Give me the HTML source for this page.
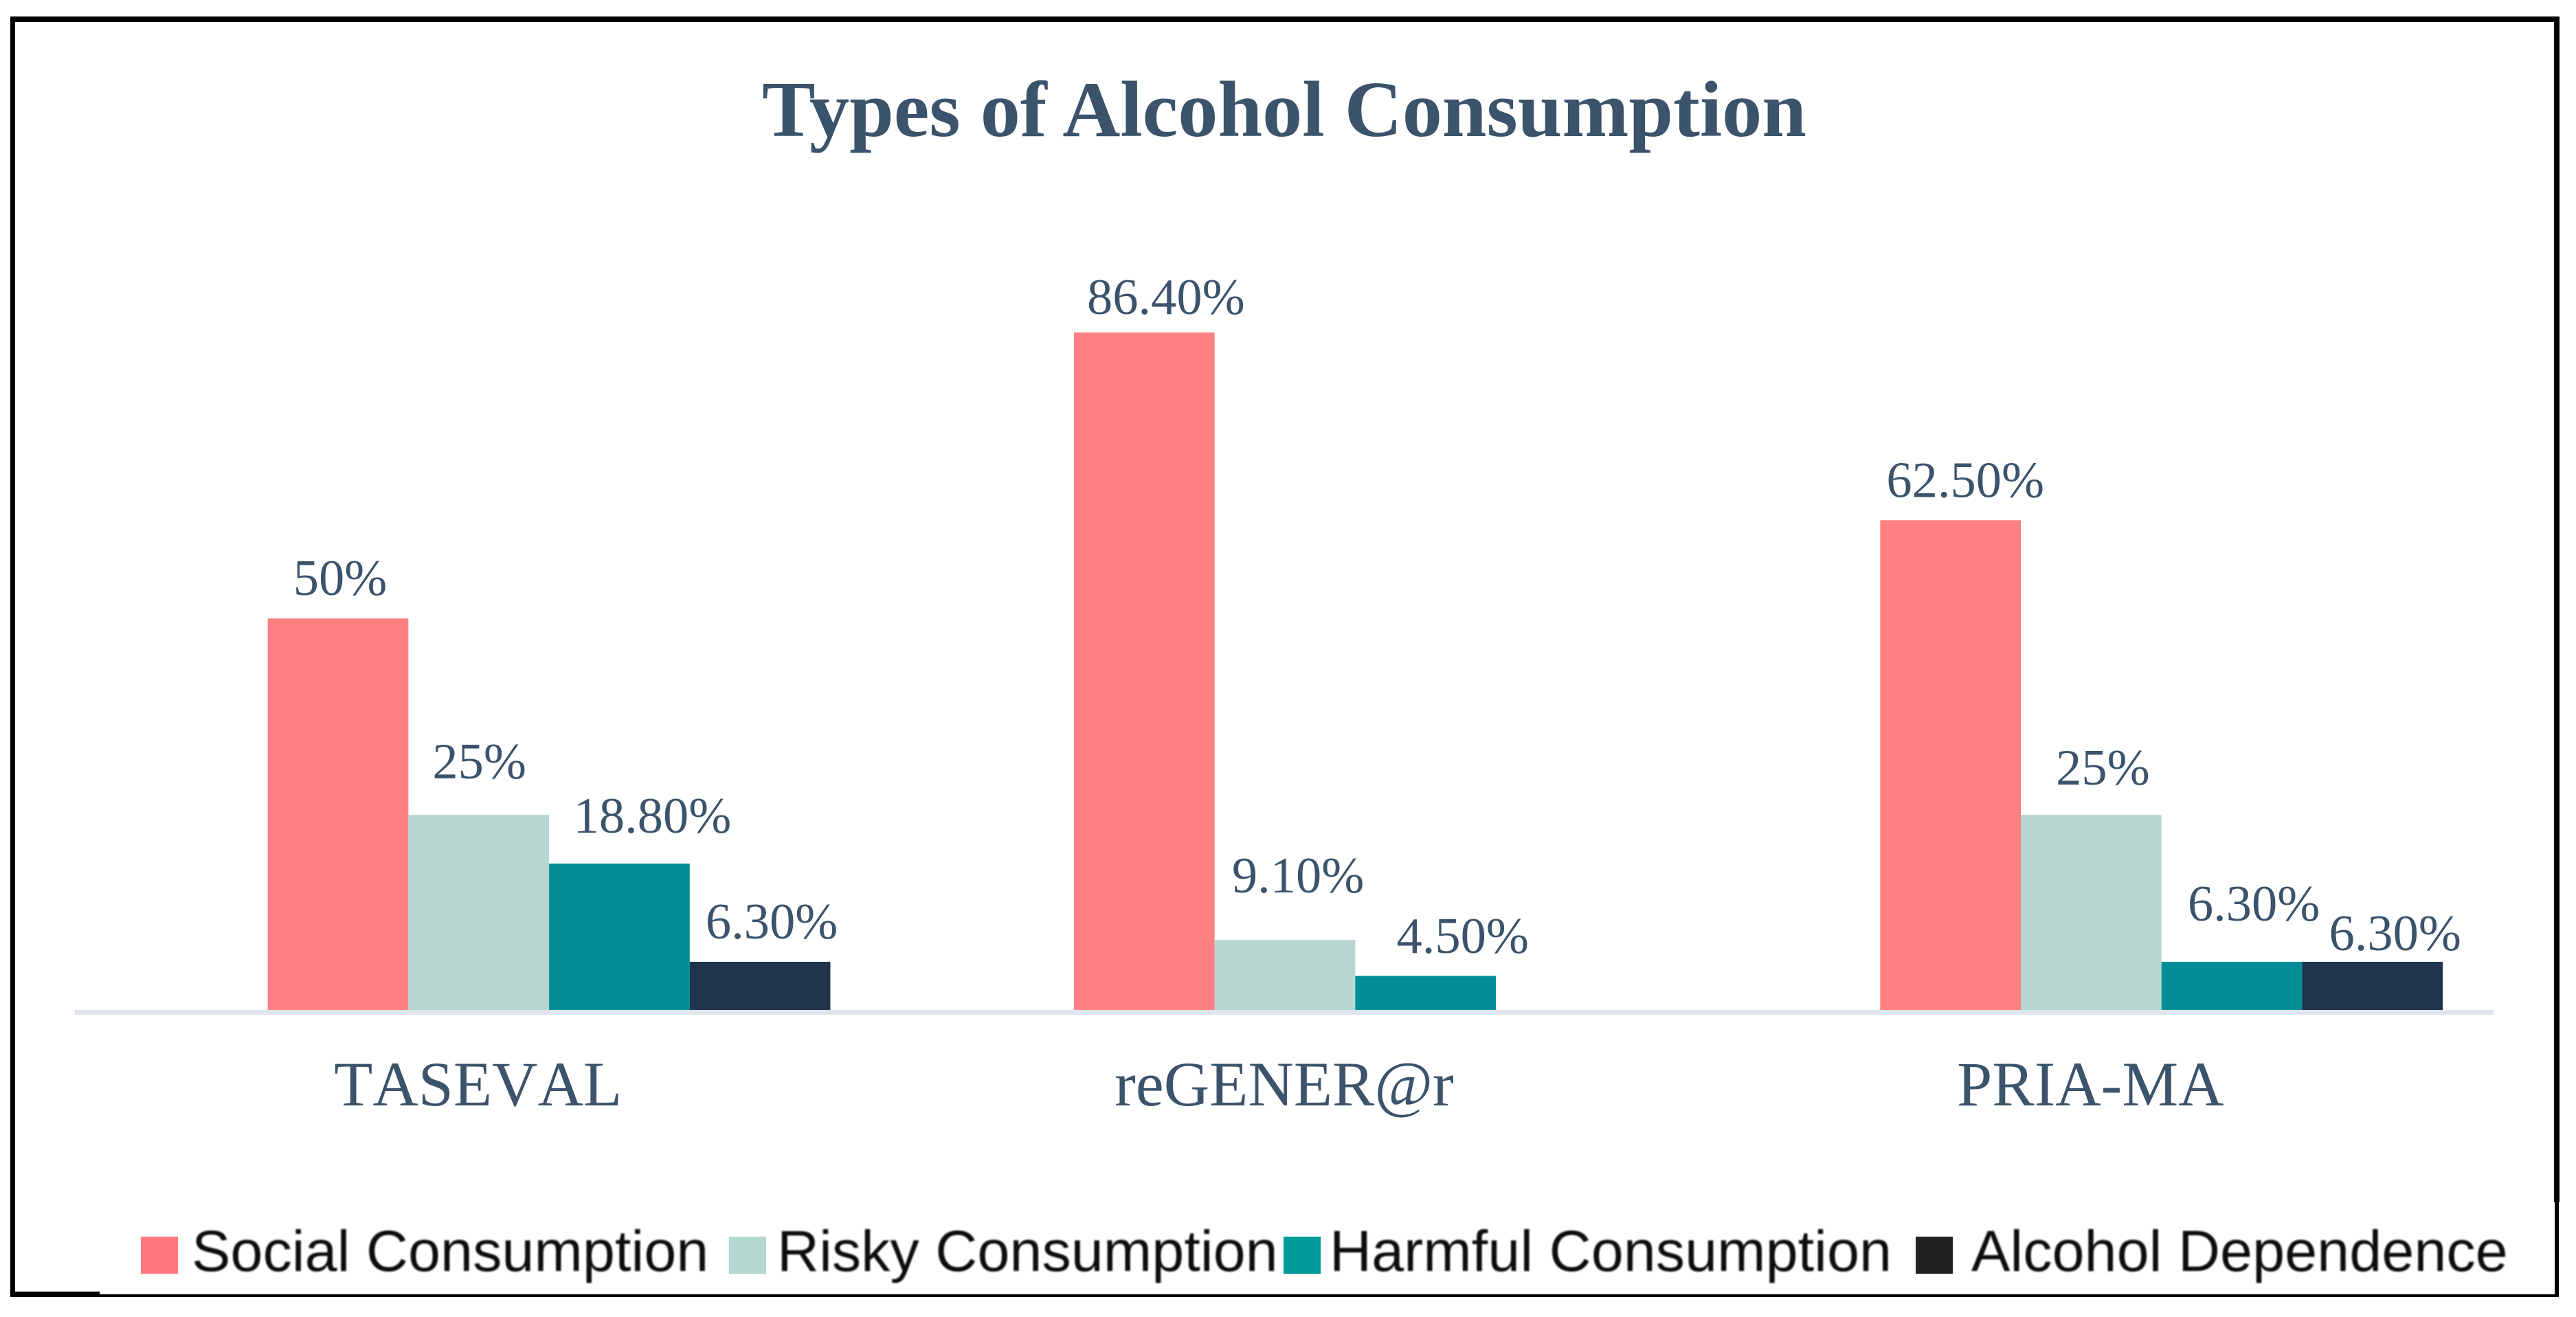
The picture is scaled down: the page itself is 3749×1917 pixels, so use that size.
<!DOCTYPE html>
<html lang="en">
<head>
<meta charset="utf-8">
<title>Types of Alcohol Consumption</title>
<style>
html,body{margin:0;padding:0;background:#fff;width:3749px;height:1917px;overflow:hidden}
svg{display:block}
.serif{font-family:"Liberation Serif",serif;fill:#3b536b}
.sans{font-family:"Liberation Sans",sans-serif;fill:#111}
</style>
</head>
<body>
<svg id="chart" width="3749" height="1917" viewBox="0 0 3749 1917" xmlns="http://www.w3.org/2000/svg">
  <defs><filter id="soft" x="-5%" y="-20%" width="110%" height="140%"><feGaussianBlur stdDeviation="1.1"/></filter></defs>
  <rect width="3749" height="1917" fill="#fff"/>
  <g fill="#000">
    <rect x="15" y="24" width="3710" height="8"/>
    <rect x="15" y="24" width="7" height="1864"/>
    <rect x="3717" y="24" width="8" height="1726"/>
    <rect x="3718" y="1750" width="6" height="138"/>
    <rect x="15" y="1884" width="3709" height="4"/>
    <rect x="15" y="1880" width="130" height="8"/>
  </g>
  <text class="serif" x="1109" y="198" font-size="116" font-weight="700" textLength="1520" lengthAdjust="spacingAndGlyphs">Types of Alcohol Consumption</text>
  <g id="bars"></g>
  <rect id="axis" x="109" y="1470" width="3520" height="7" fill="#dee5ec"/>
  <g id="labels"></g>
  <g id="cats"></g>
  <g id="legend"></g>
</svg>
<script>
const categories = ['TASEVAL', 'reGENER@r', 'PRIA-MA'];
const seriesNames = ['Social Consumption', 'Risky Consumption', 'Harmful Consumption', 'Alcohol Dependence'];
const socialValues = [50, 86.4, 62.5];
const riskyValues = [25, 9.1, 25];
const harmfulValues = [18.8, 4.5, 6.3];
const dependenceValues = [6.3, 0, 6.3];
const socialLabels = ['50%', '86.40%', '62.50%'];
const riskyLabels = ['25%', '9.10%', '25%'];
const harmfulLabels = ['18.80%', '4.50%', '6.30%'];
const dependenceLabels = ['6.30%', '', '6.30%'];

const NS = 'http://www.w3.org/2000/svg';
const allValues = [socialValues, riskyValues, harmfulValues, dependenceValues];
const allLabels = [socialLabels, riskyLabels, harmfulLabels, dependenceLabels];
const barColors = ['#ff8082', '#b6d7d1', '#028d96', '#20354c'];
const legendColors = ['#ff787e', '#b2d8d0', '#009a98', '#222222'];

function yScale(v) { return 1472 - v * 11.436; }
function bandCenter(i) { return 109 + 1173.33 * (i + 0.5); }
function barX(i, s) { return bandCenter(i) - 306 + s * 204.7; }

function draw() {
  const barsG = document.getElementById('bars');
  const labelsG = document.getElementById('labels');
  const catsG = document.getElementById('cats');
  const legendG = document.getElementById('legend');
  const nudge = [
    [[3, -34], [31.5, -27], [21.5, -34]],
    [[1, -53], [19, -69], [17, -44]],
    [[48, -45], [54, -33.5], [32, -60]],
    [[17, -34], [0, -30], [33, -17]]
  ];

  allValues.forEach(function (vals, s) {
    vals.forEach(function (v, i) {
      if (!v) return;
      const x = barX(i, s);
      const top = yScale(v);
      const bar = document.createElementNS(NS, 'rect');
      
      
      bar.setAttribute('x', x);
      bar.setAttribute('y', top);
      bar.setAttribute('width', 204.7);
      bar.setAttribute('height', yScale(0) - top);
      bar.setAttribute('fill', barColors[s]);
      barsG.appendChild(bar);

      const t = document.createElementNS(NS, 'text');
      
      
      t.setAttribute('class', 'serif');
      t.setAttribute('x', x + 102.35 + nudge[s][i][0]);
      t.setAttribute('y', top + nudge[s][i][1]);
      t.setAttribute('text-anchor', 'middle');
      t.setAttribute('font-size', '74.5');
      t.textContent = allLabels[s][i];
      labelsG.appendChild(t);
    });
  });

  categories.forEach(function (c, i) {
    const t = document.createElementNS(NS, 'text');
    
    
    t.setAttribute('class', 'serif');
    t.setAttribute('x', bandCenter(i));
    t.setAttribute('y', 1609);
    t.setAttribute('text-anchor', 'middle');
    t.setAttribute('font-size', '92');
    t.setAttribute('style', 'font-kerning:none');
    t.textContent = c;
    catsG.appendChild(t);
  });

  const swatchX = [205, 1061, 1868, 2788];
  const textX = [279, 1131, 1935, 2869];
  seriesNames.forEach(function (name, s) {
    const sw = document.createElementNS(NS, 'rect');
    
    
    sw.setAttribute('x', swatchX[s]);
    sw.setAttribute('y', 1800);
    sw.setAttribute('width', 54);
    sw.setAttribute('height', 54);
    sw.setAttribute('fill', legendColors[s]);
    legendG.appendChild(sw);

    const t = document.createElementNS(NS, 'text');
    
    
    t.setAttribute('class', 'sans');
    t.setAttribute('x', textX[s]);
    t.setAttribute('y', 1850);
    t.setAttribute('font-size', '84.6');
    t.setAttribute('filter', 'url(#soft)');
    t.textContent = name;
    legendG.appendChild(t);
  });
}
draw();
</script>
</body>
</html>
